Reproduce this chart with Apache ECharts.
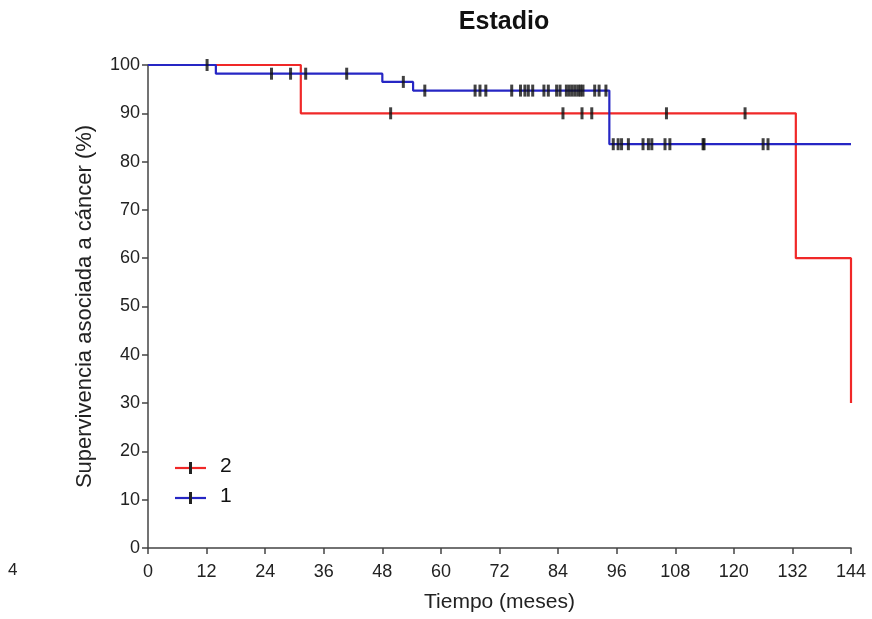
<!DOCTYPE html>
<html>
<head>
<meta charset="utf-8">
<script src="https://cdn.jsdelivr.net/npm/echarts@6/dist/echarts.min.js"></script>
<style>html,body{margin:0;padding:0;background:#fff}#c{width:872px;height:619px}</style>
</head>
<body>
<div id="c"></div>
<script>
// Kaplan-Meier steps: [time, survival %]
var group1Steps = [[0,100],[13.9,98.2],[48,96.5],[54.3,94.7],[94.5,83.6],[144,83.6]];
var group2Steps = [[0,100],[31.3,90],[132.7,60],[144,30]];
// censored times
var group1Censor = [12.1,25.3,29.2,32.3,40.7,52.3,56.7,67.0,68.0,69.2,74.5,76.3,77.2,77.9,78.8,81.1,82.0,83.7,84.4,85.7,86.3,86.9,87.5,88.1,88.6,89.1,91.5,92.4,93.8,95.3,96.3,97.0,98.4,101.4,102.5,103.2,105.9,106.9,113.7,113.9,126.0,127.0];
var group2Censor = [49.7,85.0,88.9,90.9,106.2,122.3];
var xTicks = [0,12,24,36,48,60,72,84,96,108,120,132,144];
var yTicks = [0,10,20,30,40,50,60,70,80,90,100];
var seriesNames = ['2','1'];

function survAt(steps, t){
  var v = steps[0][1];
  for (var i=0;i<steps.length;i++){ if (steps[i][0] <= t) v = steps[i][1]; }
  return v;
}
function censorPts(steps, times){ return times.map(function(t){ return [t, survAt(steps,t)]; }); }

var RED = '#f02828', BLUE = '#2626c4';
var font = 'Liberation Sans, Arial, sans-serif';
var chart = echarts.init(document.getElementById('c'));
chart.setOption({
  animation:false,
  title:{text:'Estadio', left:499, top:5, textAlign:'center', textStyle:{fontFamily:font, fontSize:25, fontWeight:'bold', color:'#111'}},
  grid:{left:148, right:21, top:65, bottom:71},
  xAxis:{type:'value', min:0, max:144, interval:12,
    name:'Tiempo (meses)', nameLocation:'middle', nameGap:44,
    nameTextStyle:{fontFamily:font, fontSize:21, color:'#222'},
    axisLine:{onZero:false, lineStyle:{color:'#444', width:1.5}},
    axisTick:{length:6, lineStyle:{color:'#444', width:1.5}},
    axisLabel:{fontFamily:font, fontSize:18, color:'#222', margin:15},
    splitLine:{show:false}},
  yAxis:{type:'value', min:0, max:100, interval:10,
    name:'Supervivencia asociada a cáncer (%)', nameLocation:'middle', nameGap:52,
    nameTextStyle:{fontFamily:font, fontSize:22, color:'#222'},
    axisLine:{show:true, lineStyle:{color:'#444', width:1.5}},
    axisTick:{show:true, length:6, lineStyle:{color:'#444', width:1.5}},
    axisLabel:{fontFamily:font, fontSize:18, color:'#222', margin:8},
    splitLine:{show:false}},
  series:[
    {name:seriesNames[0], type:'line', step:'end', data:group2Steps, symbol:'none', lineStyle:{color:RED, width:2.2}, z:2},
    {name:seriesNames[1], type:'line', step:'end', data:group1Steps, symbol:'none', lineStyle:{color:BLUE, width:2.2}, z:3},
    {type:'scatter', data:censorPts(group2Steps, group2Censor), symbol:'rect', symbolSize:[3,12], itemStyle:{color:'#111'}, z:4},
    {type:'scatter', data:censorPts(group1Steps, group1Censor), symbol:'rect', symbolSize:[3,12], itemStyle:{color:'#111'}, z:4}
  ],
  graphic:[
    {type:'line', shape:{x1:175,y1:468,x2:206,y2:468}, style:{stroke:RED, lineWidth:2.2}},
    {type:'rect', shape:{x:189,y:462,width:3,height:12}, style:{fill:'#222'}},
    {type:'text', left:220, top:456, style:{text:seriesNames[0], font:'21px '+font, fill:'#111'}},
    {type:'line', shape:{x1:175,y1:498,x2:206,y2:498}, style:{stroke:BLUE, lineWidth:2.2}},
    {type:'rect', shape:{x:189,y:492,width:3,height:12}, style:{fill:'#222'}},
    {type:'text', left:220, top:486, style:{text:seriesNames[1], font:'21px '+font, fill:'#111'}},
    {type:'text', left:8, top:562, style:{text:'4', font:'17px '+font, fill:'#222'}}
  ]
});
</script>
</body>
</html>
